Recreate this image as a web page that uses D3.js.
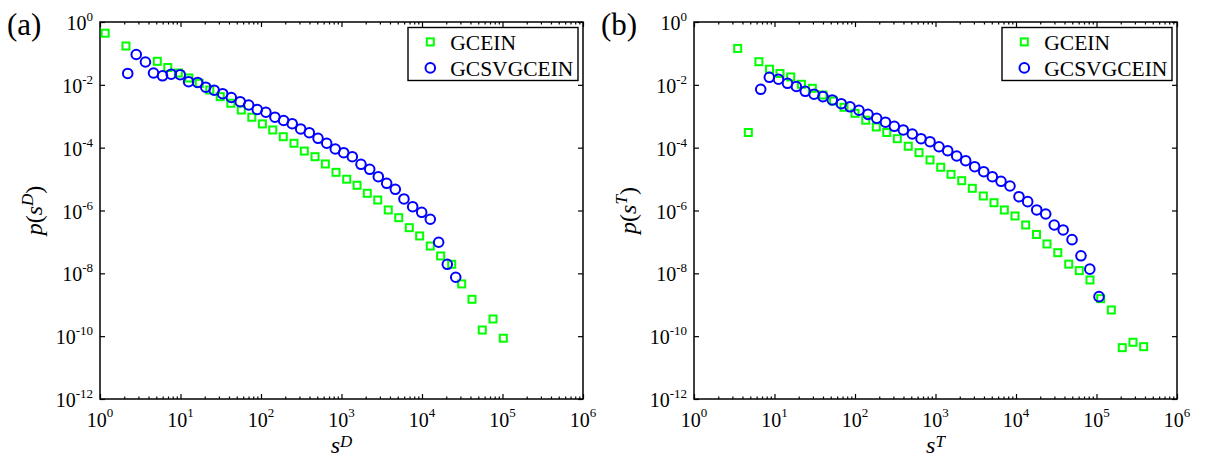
<!DOCTYPE html>
<html><head><meta charset="utf-8">
<script src="https://cdn.jsdelivr.net/npm/d3@7"></script>
<style>
body{margin:0;background:#fff}
svg{display:block}
text{font-family:"Liberation Serif","Times New Roman",serif;fill:#000}
</style>
</head><body>
<svg id="chart" width="1206" height="460"></svg>
<script>
// ---------- data ----------
const xTickExps = [0, 1, 2, 3, 4, 5, 6];
const yTickExps = [0, -2, -4, -6, -8, -10, -12];
const seriesNames = ["GCEIN", "GCSVGCEIN"];
const panelTags = ["(a)", "(b)"];
const axisSups = ["D", "T"];

// panel (a): s^D
const aGceinS = [1.16, 2.10, 5.15, 6.95, 9.4, 12.7, 17.1, 23.1, 31.2, 42.2, 56.9, 76.9, 104, 140, 189, 257, 345, 469, 630, 855, 1161, 1560, 2090, 2818, 3811, 5140, 6950, 9354, 12680, 17060, 23390, 31120, 41780, 56100, 76210, 102300];
const aGceinP = [4.4e-1, 1.72e-1, 5.6e-2, 3.56e-2, 2.38e-2, 1.65e-2, 1.12e-2, 6.85e-3, 4.2e-3, 2.59e-3, 1.58e-3, 9.3e-4, 5.7e-4, 3.66e-4, 2.23e-4, 1.38e-4, 7.8e-5, 5.16e-5, 3.03e-5, 1.64e-5, 9.9e-6, 6.35e-6, 3.53e-6, 2.16e-6, 1.04e-6, 5.9e-7, 2.84e-7, 1.55e-7, 7.4e-8, 3.57e-8, 1.94e-8, 4.6e-9, 1.49e-9, 1.57e-10, 3.52e-10, 8.6e-11];
const aSvgS = [2.21, 2.82, 3.67, 4.62, 5.98, 7.66, 9.92, 12.6, 16.3, 20.6, 26.2, 33.4, 42.8, 55.2, 70.3, 89.9, 115, 149, 191, 244, 311, 398, 511, 655, 837, 1065, 1362, 1746, 2240, 2866, 3642, 4660, 5970, 7660, 9910, 12680, 16110, 20610, 26240];
const aSvgP = [2.30e-2, 9.25e-2, 5.33e-2, 2.38e-2, 1.94e-2, 2.18e-2, 2.10e-2, 1.26e-2, 1.19e-2, 8.41e-3, 6.75e-3, 5.22e-3, 3.95e-3, 2.90e-3, 2.28e-3, 1.64e-3, 1.34e-3, 9.33e-4, 7.33e-4, 5.79e-4, 3.94e-4, 3.0e-4, 1.99e-4, 1.38e-4, 9.08e-5, 6.92e-5, 5.16e-5, 2.96e-5, 2.05e-5, 1.19e-5, 7.35e-6, 4.73e-6, 2.33e-6, 1.32e-6, 8.77e-7, 5.26e-7, 9.75e-8, 1.94e-8, 7.5e-9];

// panel (b): s^T
const bGceinS = [3.49, 4.73, 6.40, 8.67, 11.7, 15.9, 21.6, 29.5, 40.0, 54.1, 73.0, 100, 136, 184, 248, 335, 459, 624, 855, 1161, 1559, 2117, 2866, 3925, 5330, 7160, 9720, 13190, 17990, 24270, 33040, 45190, 61100, 83000, 112700, 152800, 208900, 283900, 385500];
const bGceinP = [1.44e-1, 3.04e-4, 5.45e-2, 3.15e-2, 2.30e-2, 1.78e-2, 1.04e-2, 7.76e-3, 4.75e-3, 3.06e-3, 1.93e-3, 1.24e-3, 7.5e-4, 4.55e-4, 3.04e-4, 1.93e-4, 1.11e-4, 6.92e-5, 4.06e-5, 2.38e-5, 1.42e-5, 8.9e-6, 5.09e-6, 2.90e-6, 1.77e-6, 1.04e-6, 6.70e-7, 3.46e-7, 1.73e-7, 8.6e-8, 4.55e-8, 1.96e-8, 1.22e-8, 6.15e-9, 1.56e-9, 6.82e-10, 4.31e-11, 6.40e-11, 4.63e-11];
const bSvgS = [6.74, 8.62, 11.2, 14.5, 18.7, 24.1, 31.0, 40.0, 52.2, 67.6, 86.7, 112, 145, 186, 239, 308, 398, 515, 661, 855, 1105, 1418, 1833, 2371, 3069, 3972, 5080, 6515, 8420, 10890, 13970, 18080, 23390, 29850, 38550, 49650, 64120, 82600, 107400];
const bSvgP = [7.21e-3, 1.74e-2, 1.51e-2, 1.12e-2, 8.85e-3, 6.22e-3, 5.04e-3, 4.2e-3, 3.30e-3, 2.51e-3, 2.0e-3, 1.55e-3, 1.15e-3, 8.61e-4, 6.47e-4, 4.79e-4, 3.66e-4, 2.72e-4, 1.93e-4, 1.55e-4, 1.07e-4, 8.02e-5, 5.43e-5, 3.85e-5, 2.48e-5, 1.72e-5, 1.19e-5, 8.51e-6, 6.03e-6, 2.75e-6, 1.91e-6, 1.04e-6, 7.74e-7, 3.46e-7, 2.40e-7, 1.18e-7, 3.62e-8, 1.36e-8, 1.81e-9];

// ---------- layout / style ----------
const GREEN = "#00ff00", BLUE = "#0000ff";
const panels = [
  {left: 100, tag: panelTags[0], sup: axisSups[0], sq: [aGceinS, aGceinP], ci: [aSvgS, aSvgP]},
  {left: 694, tag: panelTags[1], sup: axisSups[1], sq: [bGceinS, bGceinP], ci: [bSvgS, bSvgP]}
];
const W = 483, TOP = 22, BOT = 399;
const svg = d3.select("#chart");

panels.forEach(p => {
  const x = d3.scaleLog().domain([1, 1e6]).range([p.left, p.left + W]);
  const y = d3.scaleLog().domain([1e-12, 1]).range([BOT, TOP]);
  const g = svg.append("g");

  const majorX = xTickExps.map(e => Math.pow(10, e));
  const minorX = [];
  for (let e = 0; e < 6; e++) for (let m = 2; m <= 9; m++) minorX.push(m * Math.pow(10, e));
  const majorY = yTickExps.map(e => Math.pow(10, e));

  const addAxis = (axis, tf) => {
    const a = g.append("g").attr("transform", tf).call(axis);
    a.select(".domain").remove();
    a.selectAll("line").attr("stroke", "#000").attr("stroke-width", 1.2);
    a.selectAll("text").remove();
  };
  addAxis(d3.axisBottom(x).tickValues(majorX).tickSize(-5).tickSizeOuter(0).tickFormat(""), `translate(0,${BOT})`);
  addAxis(d3.axisBottom(x).tickValues(minorX).tickSize(-2.5).tickSizeOuter(0).tickFormat(""), `translate(0,${BOT})`);
  addAxis(d3.axisTop(x).tickValues(majorX).tickSize(-5).tickSizeOuter(0).tickFormat(""), `translate(0,${TOP})`);
  addAxis(d3.axisTop(x).tickValues(minorX).tickSize(-2.5).tickSizeOuter(0).tickFormat(""), `translate(0,${TOP})`);
  addAxis(d3.axisLeft(y).tickValues(majorY).tickSize(-5).tickSizeOuter(0).tickFormat(""), `translate(${p.left},0)`);
  addAxis(d3.axisRight(y).tickValues(majorY).tickSize(-5).tickSizeOuter(0).tickFormat(""), `translate(${p.left + W},0)`);

  g.append("rect").attr("x", p.left).attr("y", TOP).attr("width", W).attr("height", BOT - TOP)
    .attr("fill", "none").attr("stroke", "#000").attr("stroke-width", 1.5);

  // tick labels
  xTickExps.forEach(e => {
    const t = g.append("text").attr("x", x(Math.pow(10, e))).attr("y", 427)
      .attr("text-anchor", "middle").attr("font-size", 20);
    t.append("tspan").text("10");
    t.append("tspan").attr("dy", -10).attr("font-size", 13).text(e);
  });
  yTickExps.forEach(e => {
    const t = g.append("text").attr("x", p.left - 7).attr("y", y(Math.pow(10, e)) + 8)
      .attr("text-anchor", "end").attr("font-size", 20);
    t.append("tspan").text("10");
    t.append("tspan").attr("dy", -9).attr("font-size", 13).text(e === 0 ? "0" : "-" + (-e));
  });

  // axis titles
  const xt = g.append("text").attr("x", p.left + W / 2).attr("y", 453)
    .attr("text-anchor", "middle").attr("font-size", 24).attr("font-style", "italic");
  xt.append("tspan").text("s");
  xt.append("tspan").attr("dy", -6).attr("font-size", 17).text(p.sup);

  const yt = g.append("text").attr("transform", `translate(${p.left - 58},${(TOP + BOT) / 2}) rotate(-90)`)
    .attr("text-anchor", "middle").attr("font-size", 24);
  yt.append("tspan").attr("font-style", "italic").text("p");
  yt.append("tspan").text("(");
  yt.append("tspan").attr("font-style", "italic").text("s");
  yt.append("tspan").attr("font-style", "italic").attr("dy", -9).attr("font-size", 17).text(p.sup);
  yt.append("tspan").attr("dy", 9).text(")");

  // panel tag
  g.append("text").attr("x", p.left - 93).attr("y", 35).attr("font-size", 31).text(p.tag);

  // data: squares then circles
  const sqData = p.sq[0].map((s, i) => [s, p.sq[1][i]]);
  const ciData = p.ci[0].map((s, i) => [s, p.ci[1][i]]);
  const side = 7;
  g.append("g").selectAll("rect").data(sqData).join("rect")
    .attr("x", d => x(d[0]) - side / 2).attr("y", d => y(d[1]) - side / 2)
    .attr("width", side).attr("height", side)
    .attr("fill", "none").attr("stroke", GREEN).attr("stroke-width", 2);
  g.append("g").selectAll("circle").data(ciData).join("circle")
    .attr("cx", d => x(d[0])).attr("cy", d => y(d[1])).attr("r", 4.8)
    .attr("fill", "none").attr("stroke", BLUE).attr("stroke-width", 2);

  // legend
  const lx = p.left + W - 175, ly = TOP + 5.5;
  const lg = g.append("g").attr("transform", `translate(${lx},${ly})`);
  lg.append("rect").attr("width", 170).attr("height", 53).attr("fill", "#fff")
    .attr("stroke", "#000").attr("stroke-width", 1.4);
  lg.append("rect").attr("x", 22.3 - side / 2).attr("y", 14.4 - side / 2).attr("width", side).attr("height", side)
    .attr("fill", "none").attr("stroke", GREEN).attr("stroke-width", 2);
  lg.append("circle").attr("cx", 22.3).attr("cy", 40.4).attr("r", 4.8)
    .attr("fill", "none").attr("stroke", BLUE).attr("stroke-width", 2);
  lg.append("text").attr("x", 42.3).attr("y", 22).attr("font-size", 21.5).text(seriesNames[0]);
  lg.append("text").attr("x", 42.3).attr("y", 48).attr("font-size", 21.5).text(seriesNames[1]);
});
</script>
</body></html>
